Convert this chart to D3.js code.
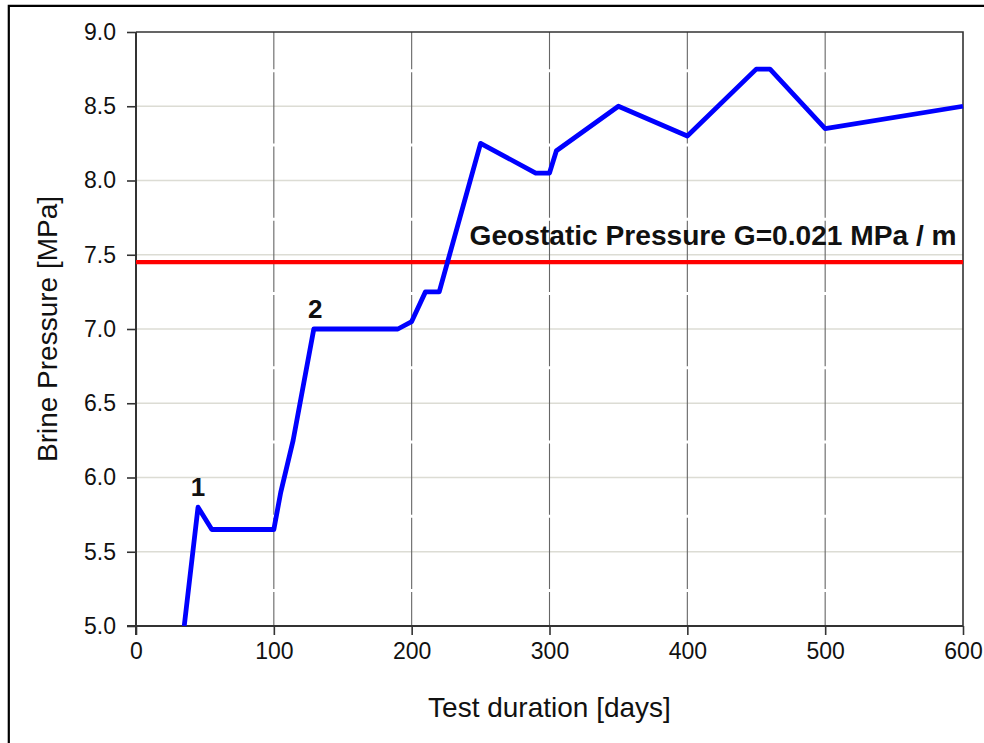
<!DOCTYPE html>
<html><head><meta charset="utf-8">
<script src="https://cdn.jsdelivr.net/npm/d3@7"></script>
<style>body{margin:0;background:#fff;} svg{display:block;}</style>
</head><body>
<svg id="c" width="984" height="743"></svg>
<script>
const days = [35,45,55,100,105,114,129,190,200,210,220,250,290,300,305,350,400,450,460,500,600];
const pressure = [5.0,5.8,5.65,5.65,5.9,6.25,7.0,7.0,7.05,7.25,7.25,8.25,8.05,8.05,8.2,8.5,8.3,8.75,8.75,8.35,8.5];
const xTicks = [0,100,200,300,400,500,600];
const yTicks = [5.0,5.5,6.0,6.5,7.0,7.5,8.0,8.5,9.0];
const geostatic = 7.45;
const geoLabel = "Geostatic Pressure G=0.021 MPa / m";
const annotations = [{t:"1", x:45, y:5.8}, {t:"2", x:130, y:7.0}];

const svg = d3.select("#c");
const L=136, R=963, T=32, B=626;
const x = d3.scaleLinear().domain([0,600]).range([L,R]);
const y = d3.scaleLinear().domain([5,9]).range([B,T]);
const font = "'Liberation Sans', Arial, sans-serif";

// outer border
svg.append("path").attr("d","M8.8,760 V5.8 H1000").attr("fill","none").attr("stroke","#000").attr("stroke-width",2.2);

// horizontal grid
svg.append("g").selectAll("line").data(yTicks.slice(1,-1)).join("line")
  .attr("x1",L).attr("x2",R).attr("y1",d=>y(d)).attr("y2",d=>y(d))
  .attr("stroke","#dcdcd4").attr("stroke-width",1.3);
// vertical grid
svg.append("g").selectAll("line").data(xTicks.slice(1,-1)).join("line")
  .attr("x1",d=>x(d)).attr("x2",d=>x(d)).attr("y1",T).attr("y2",B)
  .attr("stroke","#666").attr("stroke-width",1.1)
  .attr("stroke-dasharray","71.25,3").attr("stroke-dashoffset",34);

// frame top/right
svg.append("path").attr("d",`M${L},${T} H${R} V${B}`).attr("fill","none").attr("stroke","#333").attr("stroke-width",1.6);

// axes
const xAxis = d3.axisBottom(x).tickValues(xTicks).tickSize(9).tickPadding(8).tickFormat(d3.format("d"));
const gx = svg.append("g").attr("transform",`translate(0,${B})`).call(xAxis);
gx.select(".domain").remove();
gx.append("line").attr("x1",L-9).attr("x2",R).attr("stroke","#333").attr("stroke-width",2);
gx.selectAll(".tick line").attr("stroke","#333").attr("stroke-width",1.6);
gx.selectAll("text").attr("font-family",font).attr("font-size",23).attr("fill","#111");

const yAxis = d3.axisLeft(y).tickValues(yTicks).tickSize(9).tickPadding(11).tickFormat(d3.format(".1f"));
const gy = svg.append("g").attr("transform",`translate(${L},0)`).call(yAxis);
gy.select(".domain").remove();
gy.append("line").attr("y1",T).attr("y2",B+9).attr("stroke","#333").attr("stroke-width",2);
gy.selectAll(".tick line").attr("stroke","#333").attr("stroke-width",1.6);
gy.selectAll("text").attr("font-family",font).attr("font-size",23).attr("fill","#111");

// geostatic line
svg.append("line").attr("x1",x(0)).attr("x2",x(600)).attr("y1",y(geostatic)).attr("y2",y(geostatic))
  .attr("stroke","#ff0000").attr("stroke-width",4.2);
svg.append("text").attr("x",x(242)).attr("y",y(geostatic)-17)
  .attr("font-family",font).attr("font-weight","bold").attr("font-size",27).attr("fill","#111")
  .attr("textLength",487).attr("lengthAdjust","spacingAndGlyphs").text(geoLabel);

// data line
const line = d3.line().x((d,i)=>x(days[i])).y((d,i)=>y(pressure[i]));
svg.append("path").datum(pressure).attr("d",line).attr("fill","none")
  .attr("stroke","#0000ff").attr("stroke-width",4.8).attr("stroke-linejoin","round");

// annotations
svg.append("g").selectAll("text").data(annotations).join("text")
  .attr("x",d=>x(d.x)).attr("y",d=>y(d.y)-11).attr("text-anchor","middle")
  .attr("font-family",font).attr("font-weight","bold").attr("font-size",26).attr("fill","#111").text(d=>d.t);

// axis titles
svg.append("text").attr("x",(L+R)/2).attr("y",717).attr("text-anchor","middle")
  .attr("font-family",font).attr("font-size",28).attr("fill","#111").text("Test duration [days]");
svg.append("text").attr("transform",`translate(57,${(T+B)/2}) rotate(-90)`).attr("text-anchor","middle")
  .attr("font-family",font).attr("font-size",28).attr("fill","#111").text("Brine Pressure [MPa]");
</script>
</body></html>
